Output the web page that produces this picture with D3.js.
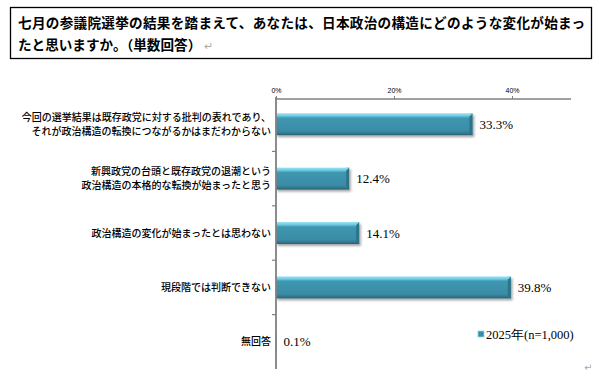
<!DOCTYPE html>
<html><head><meta charset="utf-8">
<script src="https://cdn.jsdelivr.net/npm/d3@7/dist/d3.min.js"></script>
<style>
html,body{margin:0;padding:0;background:#fff;}
svg{display:block;}
</style>
</head><body>
<script>
const titleLines = ["七月の参議院選挙の結果を踏まえて、あなたは、日本政治の構造にどのような変化が始まっ", "たと思いますか。（単数回答）"];
const categories = [
  ["今回の選挙結果は既存政党に対する批判の表れであり、", "それが政治構造の転換につながるかはまだわからない"],
  ["新興政党の台頭と既存政党の退潮という", "政治構造の本格的な転換が始まったと思う"],
  ["政治構造の変化が始まったとは思わない"],
  ["現段階では判断できない"],
  ["無回答"]
];
const values = [33.3, 12.4, 14.1, 39.8, 0.1];
const tickValues = [0, 20, 40];
const seriesName = "2025年(n=1,000)";

const W = 608, H = 374;
const svg = d3.select("body").append("svg").attr("width", W).attr("height", H);

const defs = svg.append("defs");
const g = defs.append("linearGradient").attr("id","barGrad").attr("x1",0).attr("y1",0).attr("x2",0).attr("y2",1);
[[0,"#9fe3f5"],[0.12,"#6ccbe5"],[0.22,"#3f97b0"],[0.8,"#3a8ca5"],[0.92,"#31778e"],[1,"#285f72"]]
  .forEach(([o,c])=>g.append("stop").attr("offset",o).attr("stop-color",c));
const f = defs.append("filter").attr("id","shadow").attr("x","-10%").attr("y","-20%").attr("width","130%").attr("height","160%");
f.append("feDropShadow").attr("dx",1.5).attr("dy",2).attr("stdDeviation",1.2).attr("flood-color","#000").attr("flood-opacity",0.35);

// Title box
svg.append("rect").attr("x",10.5).attr("y",7.5).attr("width",581).attr("height",51)
  .attr("fill","none").attr("stroke","#000").attr("stroke-width",1.3);
const title = svg.append("g").attr("font-family","'Noto Sans CJK JP'").attr("font-weight","bold").attr("font-size",13.6).attr("fill","#000");
title.append("text").attr("x",18).attr("y",28).text(titleLines[0]).attr("textLength",567).attr("lengthAdjust","spacing");
const t2 = title.append("text").attr("x",18).attr("y",50);
t2.append("tspan").text(titleLines[1]);
t2.append("tspan").attr("font-weight","normal").attr("fill","#aaa").attr("font-size",11).attr("dx",3).text("↵");

// Scales
const x = d3.scaleLinear().domain([0,50]).range([276,571]);
const y = d3.scaleBand().domain(d3.range(categories.length)).range([97,369]).padding(0);
const barH = 22;

// Bars
const bars = svg.append("g");
values.forEach((v,i)=>{
  const cy = y(i) + y.bandwidth()/2;
  const x0 = x(0), x1 = x(v);
  const w = x1 - x0;
  const bg = bars.append("g").attr("filter","url(#shadow)");
  bg.append("rect").attr("x",x0).attr("y",cy-barH/2).attr("width",w).attr("height",barH).attr("fill","url(#barGrad)");
  if (w > 6) {
    const b = 3;
    bg.append("path").attr("d",`M${x1-b},${cy-barH/2+b} L${x1},${cy-barH/2} L${x1},${cy+barH/2} L${x1-b},${cy+barH/2-b} Z`).attr("fill","#2d7388");
    bg.append("path").attr("d",`M${x1-b},${cy-barH/2+b} L${x1},${cy-barH/2} L${x1-b},${cy-barH/2}Z`).attr("fill","#7ed3ea");
  }
  svg.append("text").attr("x",x1+7).attr("y",cy+4.5)
    .attr("font-family","'Liberation Serif','Times New Roman',serif").attr("font-size",13).attr("fill","#000")
    .text(v.toFixed(1)+"%");
});

// Axes
const axTop = svg.append("g").attr("transform","translate(0,99)")
  .call(d3.axisTop(x).tickValues(tickValues).tickSize(3).tickPadding(3).tickFormat(d=>d+"%"));
axTop.select(".domain").attr("stroke","#808080").attr("stroke-width",1.5).attr("d",`M${x(0)},0H${x(50)}`);
axTop.selectAll(".tick line").attr("stroke","#808080");
axTop.selectAll(".tick text").attr("font-family","'Liberation Sans Narrow','Liberation Sans',sans-serif").attr("font-size",7).attr("fill","#000");

const yBounds = d3.range(1,categories.length).map(i=>y(i));
const axLeft = svg.append("g");
axLeft.append("line").attr("x1",x(0)).attr("x2",x(0)).attr("y1",97).attr("y2",369).attr("stroke","#808080").attr("stroke-width",1.8);
axLeft.selectAll("line.tk").data(yBounds).join("line").attr("class","tk")
  .attr("x1",x(0)-4).attr("x2",x(0)).attr("y1",d=>d).attr("y2",d=>d).attr("stroke","#808080").attr("stroke-width",1.2);

// Category labels
const lab = svg.append("g").attr("font-family","'Noto Sans CJK JP'").attr("font-size",10).attr("fill","#000").attr("text-anchor","end").attr("font-weight",500);
categories.forEach((lines,i)=>{
  const cy = y(i) + y.bandwidth()/2;
  const lh = 13.5;
  lines.forEach((s,j)=>{
    const yy = cy + (j - (lines.length-1)/2)*lh + 3.6;
    lab.append("text").attr("x",271).attr("y",yy).text(s);
  });
});

// Legend
const lg = svg.append("g").attr("transform","translate(478,331)");
lg.append("rect").attr("x",0).attr("y",0).attr("width",6).attr("height",6).attr("fill","#3a8ca5").attr("stroke","#8fd8ee").attr("stroke-width",0.8);
lg.append("text").attr("x",8).attr("y",7.5).attr("font-family","'Liberation Serif','Times New Roman',serif").attr("font-size",12.5).attr("fill","#000").text(seriesName);

// paragraph mark bottom right
svg.append("text").attr("x",584).attr("y",371).attr("font-family","'DejaVu Sans'").attr("font-size",10).attr("fill","#aaa").text("↵");
</script>
</body></html>
